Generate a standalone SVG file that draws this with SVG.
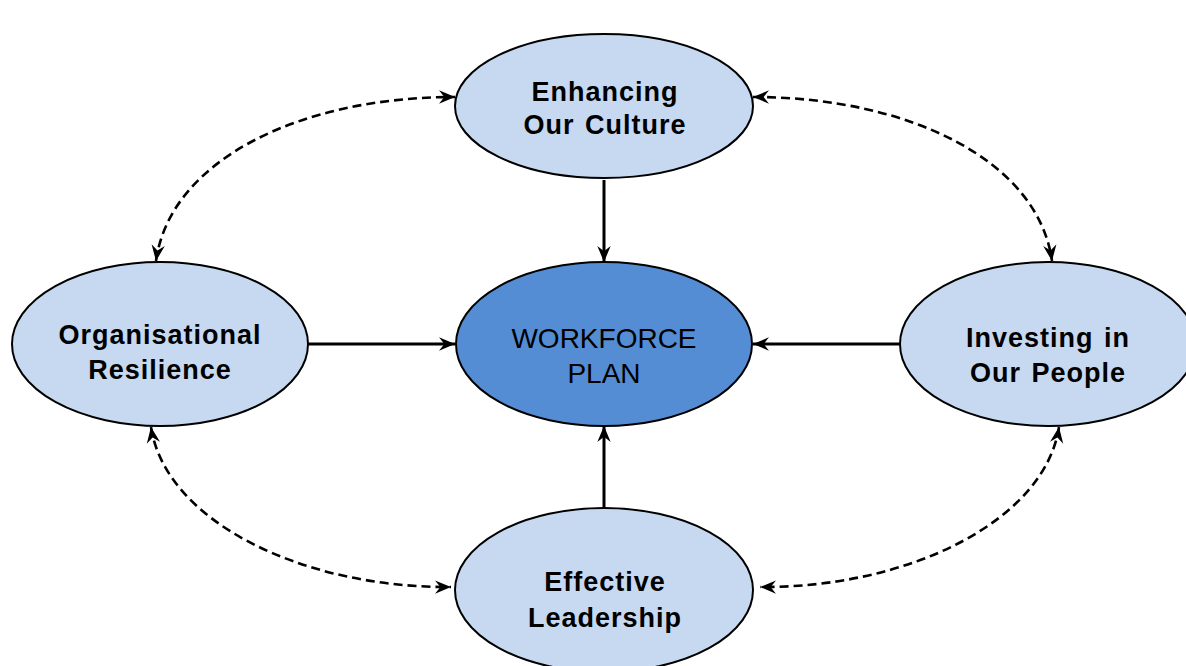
<svg xmlns="http://www.w3.org/2000/svg" width="1186" height="666" viewBox="0 0 1186 666">
  <defs>
    <style>
      .node { fill: #c6d9f0; stroke: #000; stroke-width: 2; }
      .core { fill: #548dd4; stroke: #000; stroke-width: 2; }
      .label { font-family: "Liberation Sans", Arial, sans-serif; font-size: 27px; font-weight: bold; fill: #000; text-anchor: middle; letter-spacing: 1px; word-spacing: 2px; }
      .core-label { font-family: "Liberation Sans", Arial, sans-serif; font-size: 28px; fill: #000; text-anchor: middle; }
      .flow { fill: none; stroke: #000; stroke-width: 3; }
      .link { fill: none; stroke: #000; stroke-width: 2.6; stroke-dasharray: 9 5; }
    </style>
    <marker id="head" viewBox="0 0 12 10" refX="12" refY="5" markerWidth="16" markerHeight="14" markerUnits="userSpaceOnUse" orient="auto-start-reverse">
      <path d="M0,0 L12,5 L0,10 L4,5 Z" fill="#000"/>
    </marker>
  </defs>

  <!-- connectors -->
  <g id="connectors">
    <line class="flow" x1="604" y1="180" x2="604" y2="262" marker-end="url(#head)"/>
    <line class="flow" x1="308" y1="344" x2="455" y2="344" marker-end="url(#head)"/>
    <line class="flow" x1="900" y1="344" x2="753" y2="344" marker-end="url(#head)"/>
    <line class="flow" x1="604" y1="508" x2="604" y2="426" marker-end="url(#head)"/>
    <path class="link" d="M156,261 C170,160 300,97 455,97" marker-start="url(#head)" marker-end="url(#head)"/>
    <path class="link" d="M753,97 C908,97 1038,160 1052,261" marker-start="url(#head)" marker-end="url(#head)"/>
    <path class="link" d="M151,427 C165,520 300,588 451,587" marker-start="url(#head)" marker-end="url(#head)"/>
    <path class="link" d="M1059,427 C1045,520 910,588 760,587" marker-start="url(#head)" marker-end="url(#head)"/>
  </g>

  <g id="node-culture">
    <ellipse class="node" cx="604" cy="106" rx="149" ry="72"/>
    <text class="label" x="605" y="101">Enhancing</text>
    <text class="label" x="605" y="134">Our Culture</text>
  </g>

  <g id="node-workforce-plan">
    <ellipse class="core" cx="604" cy="344" rx="148" ry="82"/>
    <text class="core-label" x="604" y="348">WORKFORCE</text>
    <text class="core-label" x="604" y="383">PLAN</text>
  </g>

  <g id="node-resilience">
    <ellipse class="node" cx="160" cy="344" rx="148" ry="82"/>
    <text class="label" x="160" y="344">Organisational</text>
    <text class="label" x="160" y="379">Resilience</text>
  </g>

  <g id="node-people">
    <ellipse class="node" cx="1048" cy="344" rx="148" ry="82"/>
    <text class="label" x="1048" y="347">Investing in</text>
    <text class="label" x="1048" y="382">Our People</text>
  </g>

  <g id="node-leadership">
    <ellipse class="node" cx="604" cy="590" rx="149" ry="82"/>
    <text class="label" x="605" y="591">Effective</text>
    <text class="label" x="605" y="627">Leadership</text>
  </g>
</svg>
